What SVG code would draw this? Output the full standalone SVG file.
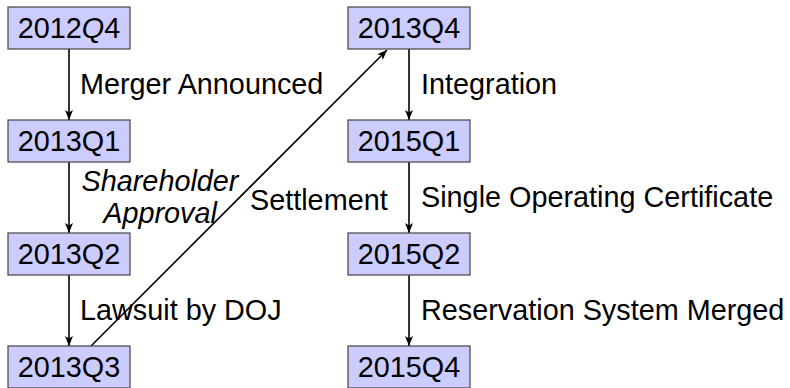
<svg xmlns="http://www.w3.org/2000/svg" width="790" height="388" viewBox="0 0 790 388">
  <style>
    .box { fill: #ccccff; stroke: #444; stroke-width: 1.2; }
    .lbl { font-family: "Liberation Sans", Arial, Helvetica, sans-serif; font-size: 28.8px; fill: #000; }
    .node-text { text-anchor: middle; }
    .edge { stroke: #000; stroke-width: 1.6; fill: none; marker-end: url(#arrow); }
    .it { font-style: italic; }
  </style>
  <defs>
    <marker id="arrow" viewBox="0 0 10 8" refX="10" refY="4" markerWidth="10" markerHeight="8" markerUnits="userSpaceOnUse" orient="auto">
      <path d="M0,0 L10,4 L0,8 L2.5,4 Z" fill="#000"/>
    </marker>
  </defs>

  <g id="connectors">
    <line class="edge" x1="69" y1="49" x2="69" y2="120"/>
    <line class="edge" x1="69" y1="162" x2="69" y2="233"/>
    <line class="edge" x1="69" y1="275" x2="69" y2="346"/>
    <line class="edge" x1="91" y1="346" x2="387" y2="50"/>
    <line class="edge" x1="409" y1="49" x2="409" y2="120"/>
    <line class="edge" x1="409" y1="162" x2="409" y2="233"/>
    <line class="edge" x1="409" y1="275" x2="409" y2="346"/>

    <text class="lbl" x="80" y="94">Merger Announced</text>
    <text class="lbl it" text-anchor="middle" x="160" y="191">Shareholder</text>
    <text class="lbl it" text-anchor="middle" x="160" y="223">Approval</text>
    <text class="lbl" x="80" y="320">Lawsuit by DOJ</text>
    <text class="lbl" x="250" y="210">Settlement</text>
    <text class="lbl" x="421" y="94">Integration</text>
    <text class="lbl" x="421" y="207">Single Operating Certificate</text>
    <text class="lbl" x="421" y="320">Reservation System Merged</text>
  </g>

  <g id="q2012q4">
    <rect class="box" x="8" y="7" width="122" height="42"/>
    <text class="lbl node-text" x="69" y="38">2012<tspan class="it">Q</tspan>4</text>
  </g>
  <g id="q2013q1">
    <rect class="box" x="8" y="120" width="122" height="42"/>
    <text class="lbl node-text" x="69" y="151">2013Q1</text>
  </g>
  <g id="q2013q2">
    <rect class="box" x="8" y="233" width="122" height="42"/>
    <text class="lbl node-text" x="69" y="264">2013Q2</text>
  </g>
  <g id="q2013q3">
    <rect class="box" x="8" y="346" width="122" height="42"/>
    <text class="lbl node-text" x="69" y="377">2013Q3</text>
  </g>
  <g id="q2013q4">
    <rect class="box" x="348" y="7" width="122" height="42"/>
    <text class="lbl node-text" x="409" y="38">2013Q4</text>
  </g>
  <g id="q2015q1">
    <rect class="box" x="348" y="120" width="122" height="42"/>
    <text class="lbl node-text" x="409" y="151">2015Q1</text>
  </g>
  <g id="q2015q2">
    <rect class="box" x="348" y="233" width="122" height="42"/>
    <text class="lbl node-text" x="409" y="264">2015Q2</text>
  </g>
  <g id="q2015q4">
    <rect class="box" x="348" y="346" width="122" height="42"/>
    <text class="lbl node-text" x="409" y="377">2015Q4</text>
  </g>
</svg>
